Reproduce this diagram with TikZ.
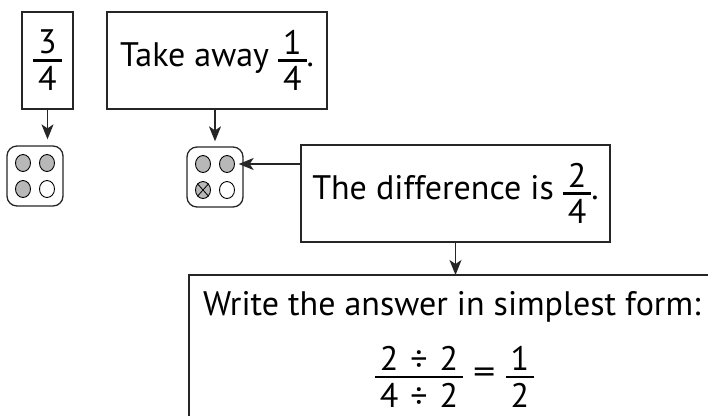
\documentclass[tikz,border=0pt]{standalone}
\usepackage{fontspec}
\usepackage{graphicx}
\setmainfont{PT Sans}
\usetikzlibrary{arrows.meta,shapes.geometric}
\newcommand{\mainfs}{\fontsize{34}{41}\selectfont}
\newcommand{\fr}[2]{\ensuremath{\vcenter{\offinterlineskip\halign{\hfil\kern5pt##\kern5pt\hfil\cr
  #1\cr\noalign{\kern5pt\hrule height 2.4pt\kern5pt}
  #2\cr}}}}
\tikzset{
  boxnode/.style={draw=black!85, line width=1.3pt, inner sep=0pt, font=\mainfs},
  dotbox/.style={draw=black!85, line width=1.3pt, rounded corners=10pt, minimum width=56pt, minimum height=60pt, inner sep=0pt},
  dotg/.style={ellipse, draw=black, line width=0.9pt, fill=black!28, minimum width=15pt, minimum height=17pt, inner sep=0pt},
  dotw/.style={dotg, fill=white},
  arr/.style={draw=black!85, line width=1.3pt, -{Stealth[length=15pt,width=12pt,inset=4pt]}},
  txt/.style={font=\mainfs, inner sep=0pt}
}
\begin{document}
\begin{tikzpicture}[x=1pt,y=-1pt]
\useasboundingbox (0,0) rectangle (708,416);
% top boxes
\node[boxnode, minimum width=51pt, minimum height=97pt] (b34) at (47.5,60.5) {\fr{3}{4}};
\node[boxnode, minimum width=220pt, minimum height=97pt] (take) at (217,60.5) {Take away \fr{1}{4}.};
% dot boxes
\node[dotbox] (dots1) at (35,176) {};
\node[dotg] (d1a) at (23,163) {};
\node[dotg] (d1b) at (47,163) {};
\node[dotg] (d1c) at (23,189) {};
\node[dotw] (d1d) at (47,189) {};
\node[dotbox] (dots2) at (215,177) {};
\node[dotg] (d2a) at (203,164) {};
\node[dotg] (d2b) at (227,164) {};
\node[dotg] (d2c) at (203,190) {};
\node[dotw] (d2d) at (227,190) {};
\draw[line width=0.8pt] (d2c.north west) -- (d2c.south east) (d2c.north east) -- (d2c.south west);
% difference box
\node[boxnode, minimum width=309pt, minimum height=97pt] (diff) at (455.5,193.5) {The difference is \fr{2}{4}.};
% write box (top and left sides only visible)
\coordinate (wc) at (189,275);
\coordinate (wr) at (708,275);
\coordinate (wb) at (189,416);
\draw[draw=black!85, line width=1.3pt] (wr) -- (wc) -- (wb);
\node[txt, anchor=base west] (wtext) at (203,315) {Write the answer in simplest form:};
\node[txt] (eq) at (454.5,377) {\fr{2\kern12pt÷\kern12pt2}{4\kern12pt÷\kern12pt2}\kern10pt\scalebox{1.3}[1]{=}\kern10pt\fr{1}{2}};
% arrows
\draw[arr, shorten >=6pt] (b34.south) -- (b34.south |- dots1.north);
\draw[arr, shorten >=5pt] (dots2.north |- take.south) -- (dots2.north);
\draw[arr, shorten >=-5pt] (diff.west |- d2b) -- (dots2.east |- d2b);
\draw[arr] (diff.south) -- (diff.south |- wc);
\end{tikzpicture}
\end{document}
